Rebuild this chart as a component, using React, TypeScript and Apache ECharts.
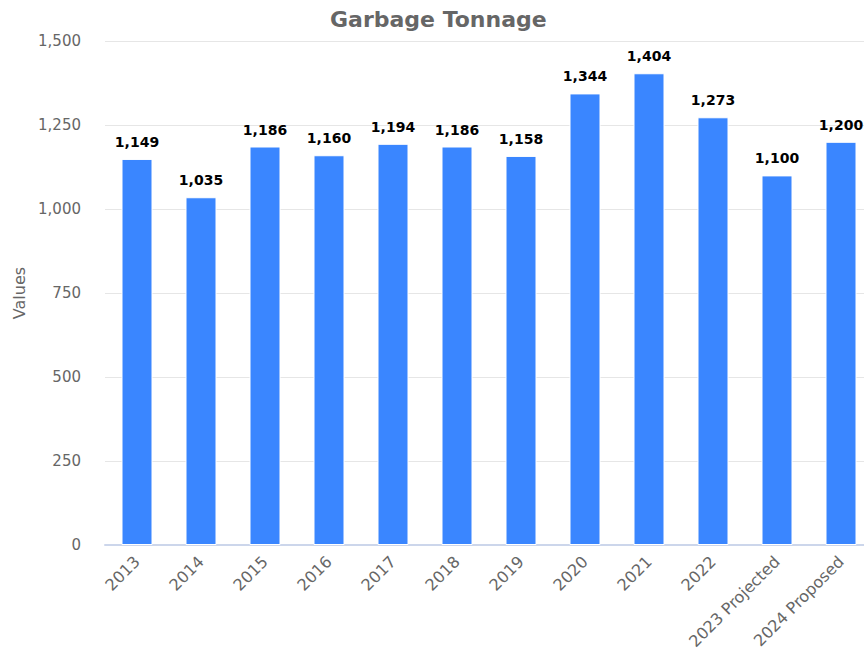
import React, { useEffect, useRef } from "react";
import * as echarts from "echarts";

const categories = ["2013", "2014", "2015", "2016", "2017", "2018", "2019", "2020", "2021", "2022", "2023 Projected", "2024 Proposed"];
const values = [1149, 1035, 1186, 1160, 1194, 1186, 1158, 1344, 1404, 1273, 1100, 1200];
const yTicks = [0, 250, 500, 750, 1000, 1250, 1500];

const FONT = "'DejaVu Sans', 'Noto Sans', sans-serif";

export default function App() {
  const ref = useRef<HTMLDivElement>(null);
  useEffect(() => {
    document.body.style.margin = "0";
    document.body.style.overflow = "hidden";
    const chart = echarts.init(ref.current!, null, { renderer: "svg" });
    chart.setOption({
      animation: false,
      textStyle: { fontFamily: FONT },
      title: {
        text: "Garbage Tonnage",
        left: 325,
        top: 3,
        textStyle: { color: "#666666", fontSize: 22, fontWeight: "bold", fontFamily: FONT },
      },
      grid: { left: 105, top: 41, width: 768, height: 504, containLabel: false, outerBoundsMode: "none" },
      xAxis: {
        type: "category",
        data: categories,
        axisLine: { lineStyle: { color: "#ccd6eb", width: 2 } },
        axisTick: { show: false },
        axisLabel: { rotate: 45, color: "#666666", fontSize: 16, margin: 14, interval: 0, fontFamily: FONT },
      },
      yAxis: {
        type: "value",
        min: yTicks[0],
        max: yTicks[yTicks.length - 1],
        interval: 250,
        name: "Values",
        nameLocation: "middle",
        nameGap: 77,
        nameTextStyle: { color: "#666666", fontSize: 16, fontFamily: FONT },
        axisLabel: {
          color: "#666666",
          fontSize: 15,
          margin: 24,
          fontFamily: FONT,
          formatter: (v: number) => v.toLocaleString("en-US"),
        },
        splitLine: { lineStyle: { color: "#e6e6e6", width: 1 } },
        axisLine: { show: false },
        axisTick: { show: false },
      },
      series: [
        {
          type: "bar",
          data: values,
          barWidth: 31,
          itemStyle: { color: "#3a86ff", borderColor: "#ffffff", borderWidth: 1 },
          label: {
            show: true,
            position: "top",
            distance: 10,
            color: "#000000",
            fontWeight: "bold",
            fontSize: 14,
            fontFamily: FONT,
            formatter: (p: any) => Number(p.value).toLocaleString("en-US"),
          },
        },
      ],
    });
    return () => chart.dispose();
  }, []);
  return <div ref={ref} style={{ width: 864, height: 658 }} />;
}
